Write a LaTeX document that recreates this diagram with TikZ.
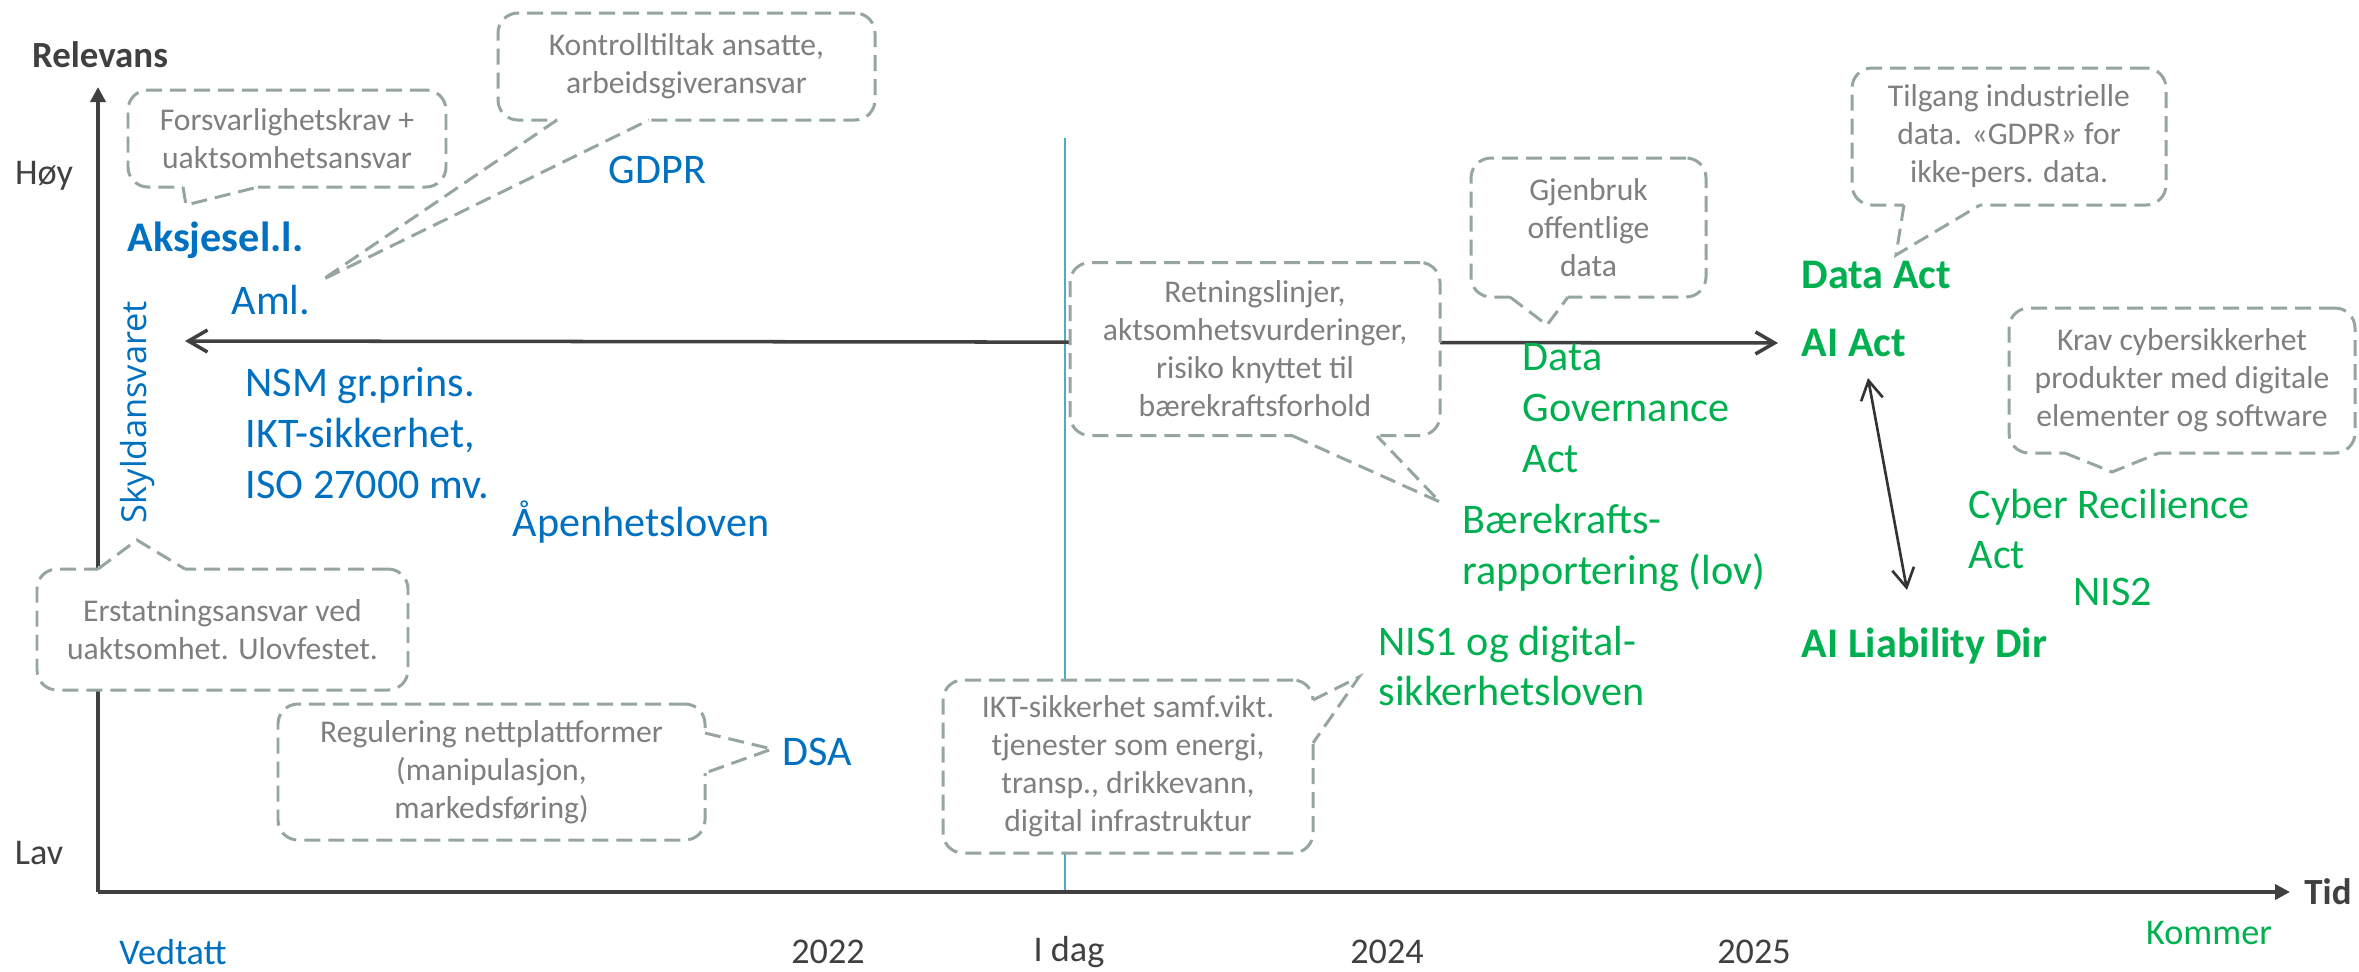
\documentclass[tikz,border=0pt]{standalone}
\usepackage{fontspec}
\setmainfont{Carlito}
\newfontfamily\skyfont{Open Sans}
\usetikzlibrary{arrows.meta,calc}
\definecolor{lawblue}{RGB}{0,112,192}
\definecolor{lawgreen}{RGB}{0,176,80}
\definecolor{axisgray}{RGB}{64,64,64}
\definecolor{notegray}{RGB}{150,165,162}
\definecolor{notetext}{RGB}{127,127,127}
\definecolor{todayline}{RGB}{75,172,198}
\newcommand{\notetail}[3]{%
  \fill[white] #1 -- #2 -- #3 -- cycle;
  \draw[white,line width=1.6pt] #1 -- #3;
  \draw[tailline] #1 -- #2 -- #3;}
\tikzset{
  note/.style={draw=notegray,dash pattern=on 1.6mm off 0.8mm,line width=0.85pt,rounded corners=2mm,fill=white,text=notetext,align=center,font=\fontsize{9}{10.8}\selectfont,inner sep=0pt},
  tailline/.style={draw=notegray,dash pattern=on 1.6mm off 0.8mm,line width=0.85pt},
  lawold/.style={text=lawblue,anchor=west,inner sep=0pt,align=left,font=\fontsize{12}{14.5}\selectfont},
  lawnew/.style={lawold,text=lawgreen},
  lawbold/.style={lawnew,font=\fontsize{12}{14.5}\selectfont\bfseries},
  axislbl/.style={text=axisgray,inner sep=0pt,font=\fontsize{10.3}{12}\selectfont},
  barb/.tip={Straight Barb[length=1.9mm,width=2.2mm]}
}
\begin{document}
\begin{tikzpicture}[x=0.1mm,y=-0.1mm]
            \useasboundingbox (0,0) rectangle (2359,971);
            \fill[white] (0,0) rectangle (2359,971);

            \coordinate (origin) at (98,892);
            \coordinate (ytop) at (98,87);
            \coordinate (xend) at (2290,892);
            \coordinate (todaytop) at (1065,138);
            \coordinate (todaybot) at (1065,892);
            \coordinate (pastend) at (185,341);
            \coordinate (aiup) at (1868,378);
            \coordinate (aidown) at (1907,590);

            \draw[todayline,line width=0.5pt] (todaytop) -- (todaybot);
            \draw[axisgray,line width=1.1pt,-{Triangle[length=1.5mm,width=1.5mm]}] (origin) -- (ytop);
            \draw[axisgray,line width=1.1pt,-{Triangle[length=1.5mm,width=1.5mm]}] (origin) -- (xend);

            \node[lawbold] (aiact) at (1801,343) {AI Act};
            \node[lawbold] (ailiab) at (1801,646) {AI Liability Dir};
            \draw[axisgray,line width=1pt,barb-barb,shorten >=2.3mm] (pastend) -- (aiact.west);
            \draw[black!80,line width=0.75pt,barb-barb] (aiup) -- (aidown);

            \node[note,minimum width=31.8mm,minimum height=9.7mm] (nA) at (287,138.5) {Forsvarlighetskrav +\\uaktsomhetsansvar};
            \notetail{(183,187)}{(186,205)}{(258,187)}
            \node[note,minimum width=37.7mm,minimum height=10.7mm] (nB) at (686.5,66.5) {Kontrolltiltak ansatte,\\arbeidsgiveransvar};
            \notetail{(557,120)}{(322,280)}{(649,120)}
            \node[note,minimum width=23.5mm,minimum height=13.9mm] (nC) at (1588.5,227.5) {Gjenbruk\\offentlige\\data};
            \notetail{(1510,297)}{(1547,325)}{(1568,297)}
            \node[note,minimum width=31.4mm,minimum height=13.7mm] (nD) at (2009,136.5) {Tilgang industrielle\\data. «GDPR» for\\ikke-pers. data.};
            \notetail{(1904,205)}{(1896,255)}{(1980,205)}
            \node[note,minimum width=37mm,minimum height=17.3mm] (nE) at (1255,349) {Retningslinjer,\\aktsomhetsvurderinger,\\risiko knyttet til\\bærekraftsforhold};
            \notetail{(1293,436)}{(1440,502)}{(1377,436)}
            \node[note,minimum width=34.6mm,minimum height=14.5mm] (nF) at (2182,380.5) {Krav cybersikkerhet\\produkter med digitale\\elementer og software};
            \notetail{(2065,453)}{(2112,472)}{(2159,453)}
            \node[note,minimum width=37mm,minimum height=17.3mm] (nG) at (1128,766.5) {IKT-sikkerhet samf.vikt.\\tjenester som energi,\\transp., drikkevann,\\digital infrastruktur};
            \notetail{(1313,700)}{(1359,677)}{(1313,743)}
            \node[note,minimum width=37.1mm,minimum height=12.1mm] (nH) at (222.5,629.5) {Erstatningsansvar ved\\uaktsomhet. Ulovfestet.};
            \notetail{(98,569)}{(137,540)}{(185,569)}
            \node[note,minimum width=42.7mm,minimum height=13.6mm] (nI) at (491.5,772) {Regulering nettplattformer\\(manipulasjon,\\markedsføring)};
            \notetail{(705,733)}{(772,749)}{(705,773)}

            \node[text=lawblue,rotate=90,inner sep=0pt,font=\skyfont\fontsize{9.8}{12}\selectfont] (skyld) at (138,412) {Skyldansvaret};
            \node[lawold,font=\fontsize{12}{14.5}\selectfont\bfseries] (aksje) at (127,240) {Aksjesel.l.};
            \node[lawold] (aml) at (231,300) {Aml.};
            \node[lawold] (gdpr) at (608,170) {GDPR};
            \node[lawold] (nsm) at (245,433) {NSM gr.prins.\\IKT-sikkerhet,\\ISO 27000 mv.};
            \node[lawold] (aapen) at (512,522) {Åpenhetsloven};
            \node[lawold] (dsa) at (782,752) {DSA};

            \node[lawnew] (dga) at (1522,408) {Data\\Governance\\Act};
            \node[lawnew] (baer) at (1462,548) {Bærekrafts-\\rapportering (lov)};
            \node[lawnew] (nis1) at (1378,666) {NIS1 og digital-\\sikkerhetsloven};
            \node[lawbold] (dataact) at (1801,275) {Data Act};
            \node[lawnew] (cra) at (1968,529) {Cyber Recilience\\Act};
            \node[lawnew] (nis2) at (2073,592) {NIS2};

            \node[axislbl,font=\fontsize{10.5}{12}\selectfont\bfseries] (relevans) at (100,55) {Relevans};
            \node[axislbl] (hoy) at (44,176) {Høy};
            \node[axislbl] (lav) at (39,853) {Lav};
            \node[axislbl,font=\fontsize{10.5}{12}\selectfont\bfseries] (tid) at (2328,892) {Tid};
            \node[axislbl,text=lawblue] (vedtatt) at (173,952) {Vedtatt};
            \node[axislbl] (y2022) at (828,952) {2022};
            \node[axislbl] (idag) at (1069,952) {I dag};
            \node[axislbl] (y2024) at (1387,952) {2024};
            \node[axislbl] (y2025) at (1754,952) {2025};
            \node[axislbl,text=lawgreen] (kommer) at (2209,933) {Kommer};
        \end{tikzpicture}
\end{document}
